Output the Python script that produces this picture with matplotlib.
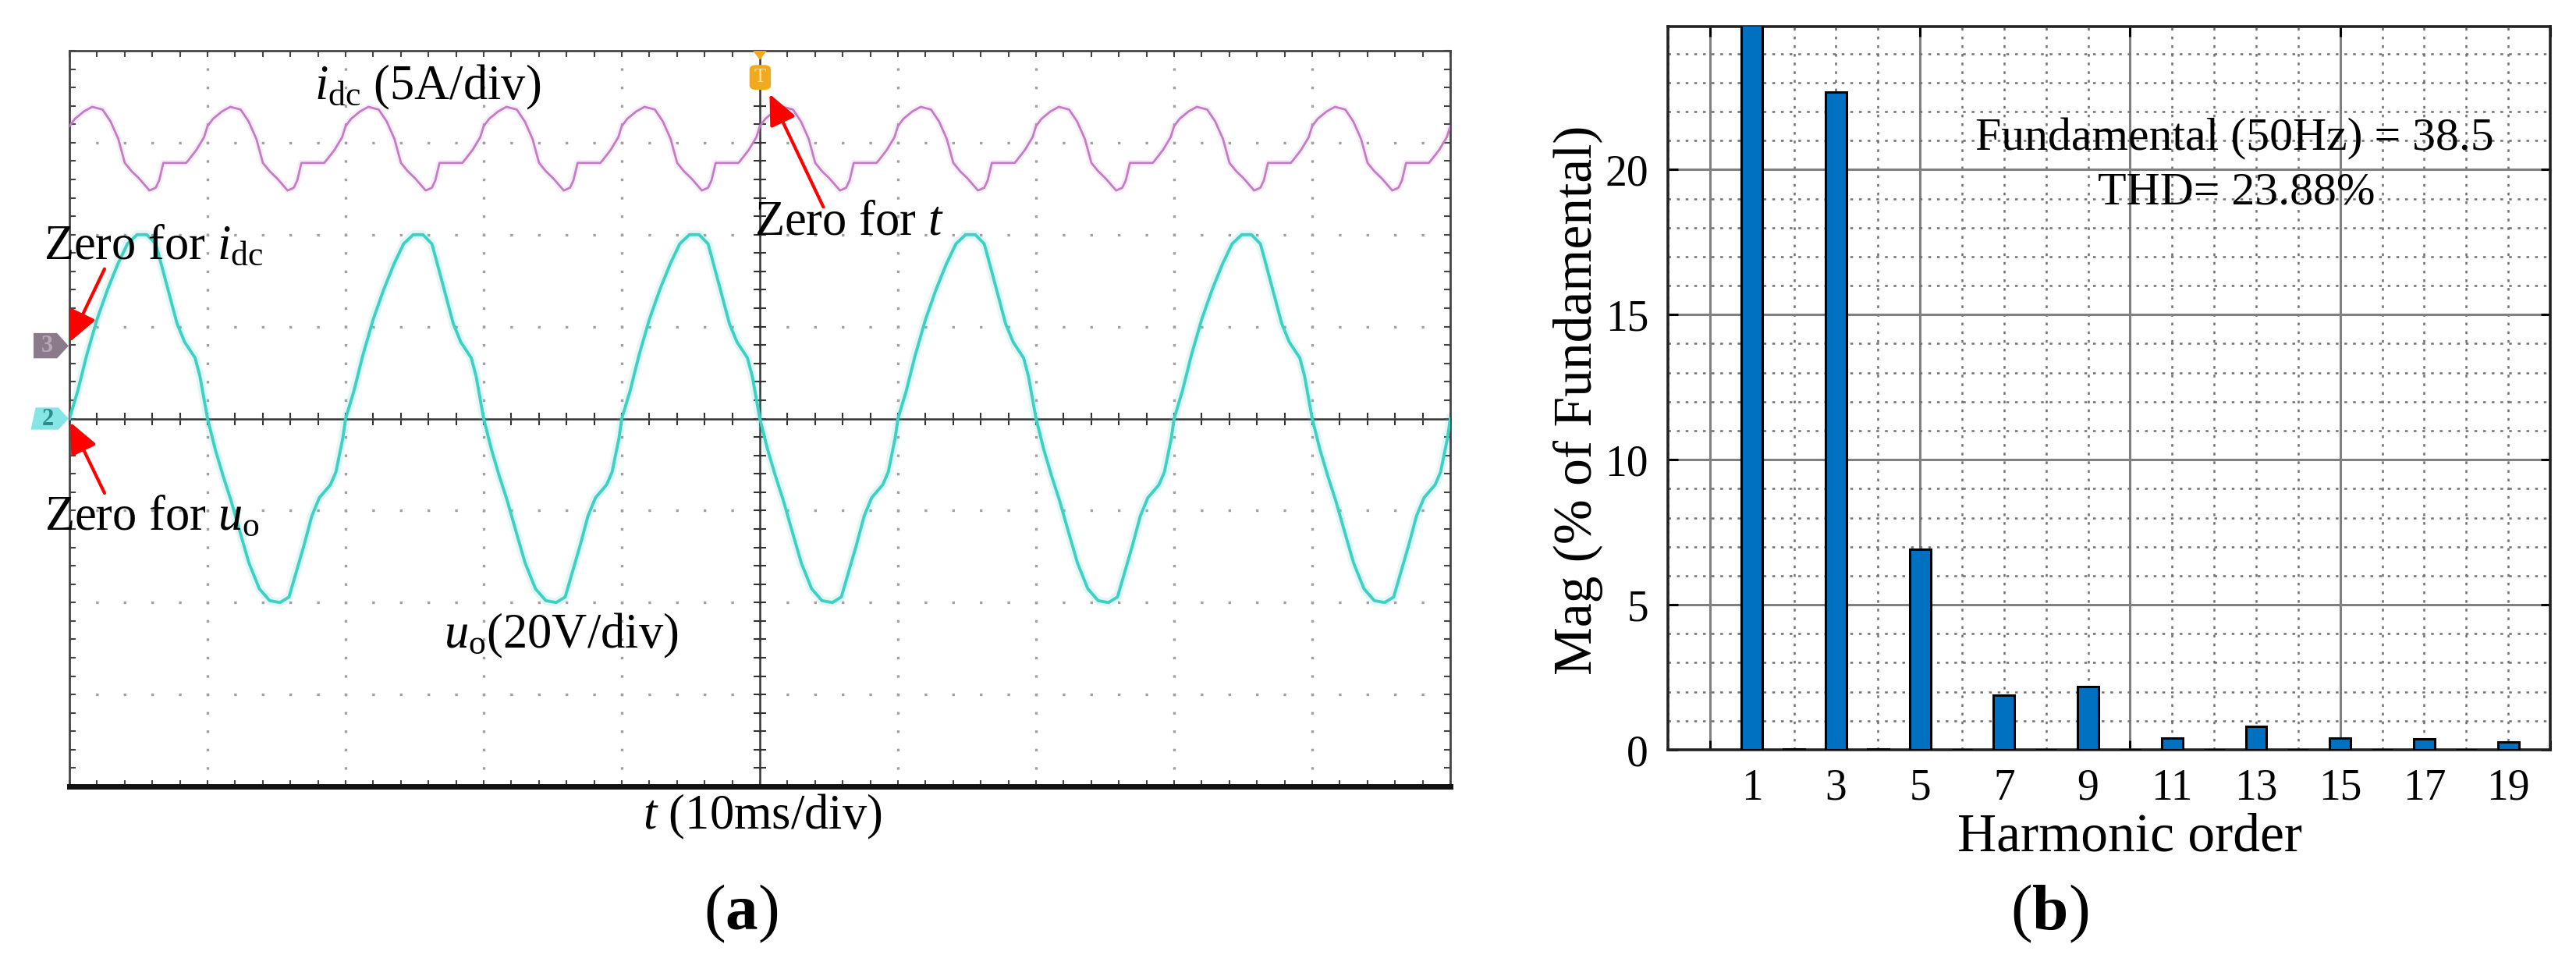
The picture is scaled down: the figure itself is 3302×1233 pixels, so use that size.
import numpy as np
import matplotlib
matplotlib.use("Agg")
import matplotlib.pyplot as plt
from matplotlib.patches import Polygon, FancyBboxPatch
from matplotlib.ticker import MultipleLocator, FixedLocator

plt.rcParams["font.family"] = "serif"
plt.rcParams["font.serif"] = ["Liberation Serif", "DejaVu Serif"]
plt.rcParams["mathtext.fontset"] = "custom"
plt.rcParams["mathtext.rm"] = "Liberation Serif"
plt.rcParams["mathtext.it"] = "Liberation Serif:italic"
plt.rcParams["mathtext.bf"] = "Liberation Serif:bold"
plt.rcParams["lines.scale_dashes"] = False

# ---- (a) scope traces: one period of each ----
UO_PERIOD_MS = 20.0
uo_t_ms = [0.0, 0.6, 1.25, 2.0, 2.75, 3.5, 4.2, 4.9, 5.6, 6.25, 6.7, 7.3, 7.8,
           8.35, 9.1, 9.45, 10.0, 10.55, 11.1, 11.7, 12.25, 13.0, 13.75, 14.5,
           15.25, 15.9, 16.4, 17.0, 17.55, 18.1, 18.9, 19.3, 19.8, 20.0]
uo_volts = [0.0, 6.0, 13.8, 21.6, 28.0, 33.6, 38.0, 40.0, 40.0, 38.0, 33.0,
            26.2, 20.6, 16.6, 13.2, 9.2, 0.0, -6.6, -12.2, -17.8, -23.6, -31.4,
            -37.0, -39.6, -40.0, -38.8, -33.6, -27.4, -21.2, -17.2, -14.4,
            -11.6, -4.2, 0.0]

IDC_PERIOD_MS = 10.0
idc_t_ms = [0.0, 0.4, 1.05, 1.65, 2.4, 2.98, 3.54, 4.01, 4.5, 5.05, 5.8, 6.25,
            6.5, 6.8, 8.45, 8.62, 9.19, 9.75, 10.0]
idc_amps = [11.95, 12.35, 12.75, 13.0, 12.85, 12.2, 11.25, 9.95, 9.5, 9.1,
            8.45, 8.6, 9.0, 9.95, 9.95, 10.1, 10.65, 11.35, 11.95]

# scope settings
MS_PER_DIV = 10.0
UO_PER_DIV = 20.0
IDC_PER_DIV = 5.0
IDC_ZERO_DIV = 0.79      # ch3 zero marker sits above the screen centre
SCREEN_MS = 100.0

# ---- (b) harmonic spectrum ----
harmonic_order = list(range(1, 20))
harmonic_mag = [100.0, 0.03, 22.67, 0.03, 6.9, 0.0, 1.87, 0.0, 2.19, 0.0,
                0.39, 0.0, 0.8, 0.0, 0.39, 0.0, 0.37, 0.0, 0.26]
odd_orders = harmonic_order[::2]
fundamental_text = "Fundamental (50Hz) = 38.5"
thd_text = "THD= 23.88%"


def repeat_period(t, y, period, total):
    """Lay the same recorded period end to end across the screen."""
    n = int(round(total / period))
    t = np.asarray(t)
    y = np.asarray(y)
    tt = np.concatenate([t[:-1] + k * period for k in range(n)] + [t[-1:] + (n - 1) * period])
    yy = np.concatenate([y[:-1]] * n + [y[-1:]])
    return tt, yy


W, H = 3302, 1233
DPI = 100


def rect(x0, y0, x1, y1):
    return [x0 / W, 1 - y1 / H, (x1 - x0) / W, (y1 - y0) / H]


fig = plt.figure(figsize=(W / DPI, H / DPI), dpi=DPI)
fig.patch.set_facecolor("white")

# ================= panel (a) =================
scope_px = (89, 65, 1859, 1008)
scope_rect = rect(*scope_px)
dx_pt = (scope_px[2] - scope_px[0]) / 50 * 72 / DPI
dy_pt = (scope_px[3] - scope_px[1]) / 40 * 72 / DPI

# background axes: dotted graticule and centre cross with fine ticks
ax_bg = fig.add_axes(scope_rect, zorder=0)
ax_bg.set_xlim(0, 10)
ax_bg.set_ylim(-4, 4)
for s in ("top", "right"):
    ax_bg.spines[s].set_visible(False)
ax_bg.spines["left"].set_position(("data", 5))
ax_bg.spines["bottom"].set_position(("data", 0))
for s in ("left", "bottom"):
    ax_bg.spines[s].set_color("#333333")
    ax_bg.spines[s].set_linewidth(1.8)
for axis in (ax_bg.xaxis, ax_bg.yaxis):
    axis.set_major_locator(MultipleLocator(1))
    axis.set_minor_locator(MultipleLocator(0.2))
ax_bg.tick_params(which="both", direction="inout", length=11, width=1.5,
                  colors="#333333", labelbottom=False, labelleft=False)
gcol = "#a0a0a0"
ax_bg.xaxis.grid(True, which="major", color=gcol, lw=2.4,
                 linestyle=(1.2, (2.4, dy_pt - 2.4)))
ax_bg.yaxis.grid(True, which="major", color=gcol, lw=2.4,
                 linestyle=(1.2, (2.4, dx_pt - 2.4)))

# front axes: frame, traces, markers, labels
ax = fig.add_axes(scope_rect, zorder=1)
ax.set_facecolor("none")
ax.set_xlim(0, 10)
ax.set_ylim(-4, 4)
for axis in (ax.xaxis, ax.yaxis):
    axis.set_major_locator(MultipleLocator(1))
    axis.set_minor_locator(MultipleLocator(0.2))
ax.tick_params(which="both", direction="in", length=6, width=1.5,
               color="#444444", top=True, right=True,
               labelbottom=False, labelleft=False)
for s in ("left", "top", "right"):
    ax.spines[s].set_color("#444444")
    ax.spines[s].set_linewidth(2.0)
ax.spines["bottom"].set_color("#111111")
ax.spines["bottom"].set_linewidth(5.0)

t_uo, v_uo = repeat_period(uo_t_ms, uo_volts, UO_PERIOD_MS, SCREEN_MS)
t_id, v_id = repeat_period(idc_t_ms, idc_amps, IDC_PERIOD_MS, SCREEN_MS)
x_uo, y_uo = t_uo / MS_PER_DIV, v_uo / UO_PER_DIV
x_id, y_id = t_id / MS_PER_DIV, v_id / IDC_PER_DIV + IDC_ZERO_DIV

ax.plot(x_uo, y_uo, color="#3fd0c4", lw=8, alpha=0.15, zorder=2)
ax.plot(x_uo, y_uo, color="#3fd0c4", lw=2.8, zorder=3)
ax.plot(x_id, y_id, color="#c47cc4", lw=6, alpha=0.12, zorder=2)
ax.plot(x_id, y_id, color="#c47cc4", lw=2.0, zorder=3)

# channel zero flags and trigger marker
ch3_flag = Polygon([(-0.26, 0.93), (-0.09, 0.93), (-0.006, IDC_ZERO_DIV),
                    (-0.09, 0.655), (-0.26, 0.655)], closed=True,
                   facecolor="#8a7a8a", edgecolor="none", clip_on=False, zorder=4)
ax.add_patch(ch3_flag)
ax.text(-0.16, IDC_ZERO_DIV, "3", color="#b7a8b7", fontsize=22,
        ha="center", va="center", fontweight="bold", clip_on=False, zorder=5)
ch2_flag = Polygon([(-0.245, 0.12), (-0.08, 0.12), (-0.006, 0.0),
                    (-0.08, -0.12), (-0.28, -0.12)], closed=True,
                   facecolor="#86e6e6", edgecolor="none", clip_on=False, zorder=4)
ax.add_patch(ch2_flag)
ax.text(-0.155, -0.01, "2", color="#2c8c8c", fontsize=22,
        ha="center", va="center", fontweight="bold", clip_on=False, zorder=5)
trig = FancyBboxPatch((4.925, 3.575), 0.155, 0.27,
                      boxstyle="round,pad=0,rounding_size=0.05",
                      facecolor="#f2a91f", edgecolor="none", clip_on=False, zorder=4)
ax.add_patch(trig)
ax.text(5.0, 3.71, "T", color="#ffe1a0", fontsize=18, ha="center",
        va="center", clip_on=False, zorder=5)
ax.add_patch(Polygon([(4.95, 4.0), (5.05, 4.0), (5.0, 3.9)], closed=True,
                     facecolor="#f2a91f", edgecolor="none", clip_on=False, zorder=4))

arrow = dict(arrowstyle="-|>,head_length=1.0,head_width=0.45", color="red",
             lw=3, mutation_scale=24, shrinkA=0, shrinkB=0)
ax.annotate("", xy=(0.0, 0.83), xytext=(0.254, 1.627), arrowprops=arrow,
            annotation_clip=False, zorder=6)
ax.annotate("", xy=(0.006, -0.04), xytext=(0.254, -0.81), arrowprops=arrow,
            annotation_clip=False, zorder=6)
ax.annotate("", xy=(5.07, 3.53), xytext=(5.46, 2.30), arrowprops=arrow,
            annotation_clip=False, zorder=6)

fs = 45
ax.text(2.596, 3.466, r"$i_{\rm dc}$ (5A/div)", fontsize=fs, ha="center", va="baseline", zorder=6)
ax.text(-0.186, 1.729, r"Zero for $i_{\rm dc}$", fontsize=fs, ha="left", va="baseline",
        clip_on=False, zorder=6)
ax.text(-0.181, -1.212, r"Zero for $u_{\rm o}$", fontsize=fs, ha="left", va="baseline",
        clip_on=False, zorder=6)
ax.text(4.96, 2.0, r"Zero for $t$", fontsize=fs, ha="left", va="baseline", zorder=6)
ax.text(3.56, -2.49, r"$u_{\rm o}$(20V/div)", fontsize=fs, ha="center", va="baseline", zorder=6)
ax.text(5.02, -4.46, r"$t$ (10ms/div)", fontsize=fs, ha="center", va="baseline",
        clip_on=False, zorder=6)

# ================= panel (b) =================
bx = fig.add_axes(rect(2138, 34, 3269, 961))
bx.bar(harmonic_order, harmonic_mag, width=0.5, color="#0070c0",
       edgecolor="black", linewidth=2.2, zorder=3)
bx.set_xlim(-1, 20)
bx.set_ylim(0, 24.93)
bx.set_axisbelow(True)
bx.xaxis.set_major_locator(FixedLocator([0, 5, 10, 15, 20]))
bx.xaxis.set_minor_locator(MultipleLocator(1))
bx.yaxis.set_major_locator(FixedLocator([0, 5, 10, 15, 20]))
bx.yaxis.set_minor_locator(MultipleLocator(1))
bx.grid(which="major", color="#808080", lw=2.2, linestyle="-")
bx.grid(which="minor", color="#707070", lw=1.8, linestyle=(0, (2.5, 5.5)))
bx.tick_params(which="major", direction="in", length=9, width=2.2,
               top=True, right=True, labelbottom=False, labelsize=40, pad=18)
bx.tick_params(which="minor", length=0)
for s in bx.spines.values():
    s.set_color("#222222")
    s.set_linewidth(2.6)

sec = bx.secondary_xaxis("bottom")
sec.set_xticks(odd_orders)
sec.tick_params(length=0, pad=17, labelsize=40)
sec.spines["bottom"].set_visible(False)

bx.set_xlabel("Harmonic order", fontsize=50)
bx.xaxis.set_label_coords(0.523, -0.087)
bx.set_ylabel("Mag (% of Fundamental)", fontsize=50)
bx.yaxis.set_label_coords(-0.0734, 0.4836)

bx.text(12.48, 20.68, fundamental_text, fontsize=43, ha="center", va="baseline", zorder=5)
bx.text(12.53, 18.82, thd_text, fontsize=43, ha="center", va="baseline", zorder=5)

# panel letters
fig.text(950 / W, 1 - 1191 / H, r"($\mathbf{a}$)", fontsize=60, ha="center", va="baseline")
fig.text(2627 / W, 1 - 1191 / H, r"($\mathbf{b}$)", fontsize=60, ha="center", va="baseline")

fig.savefig("out.png", dpi=DPI)
